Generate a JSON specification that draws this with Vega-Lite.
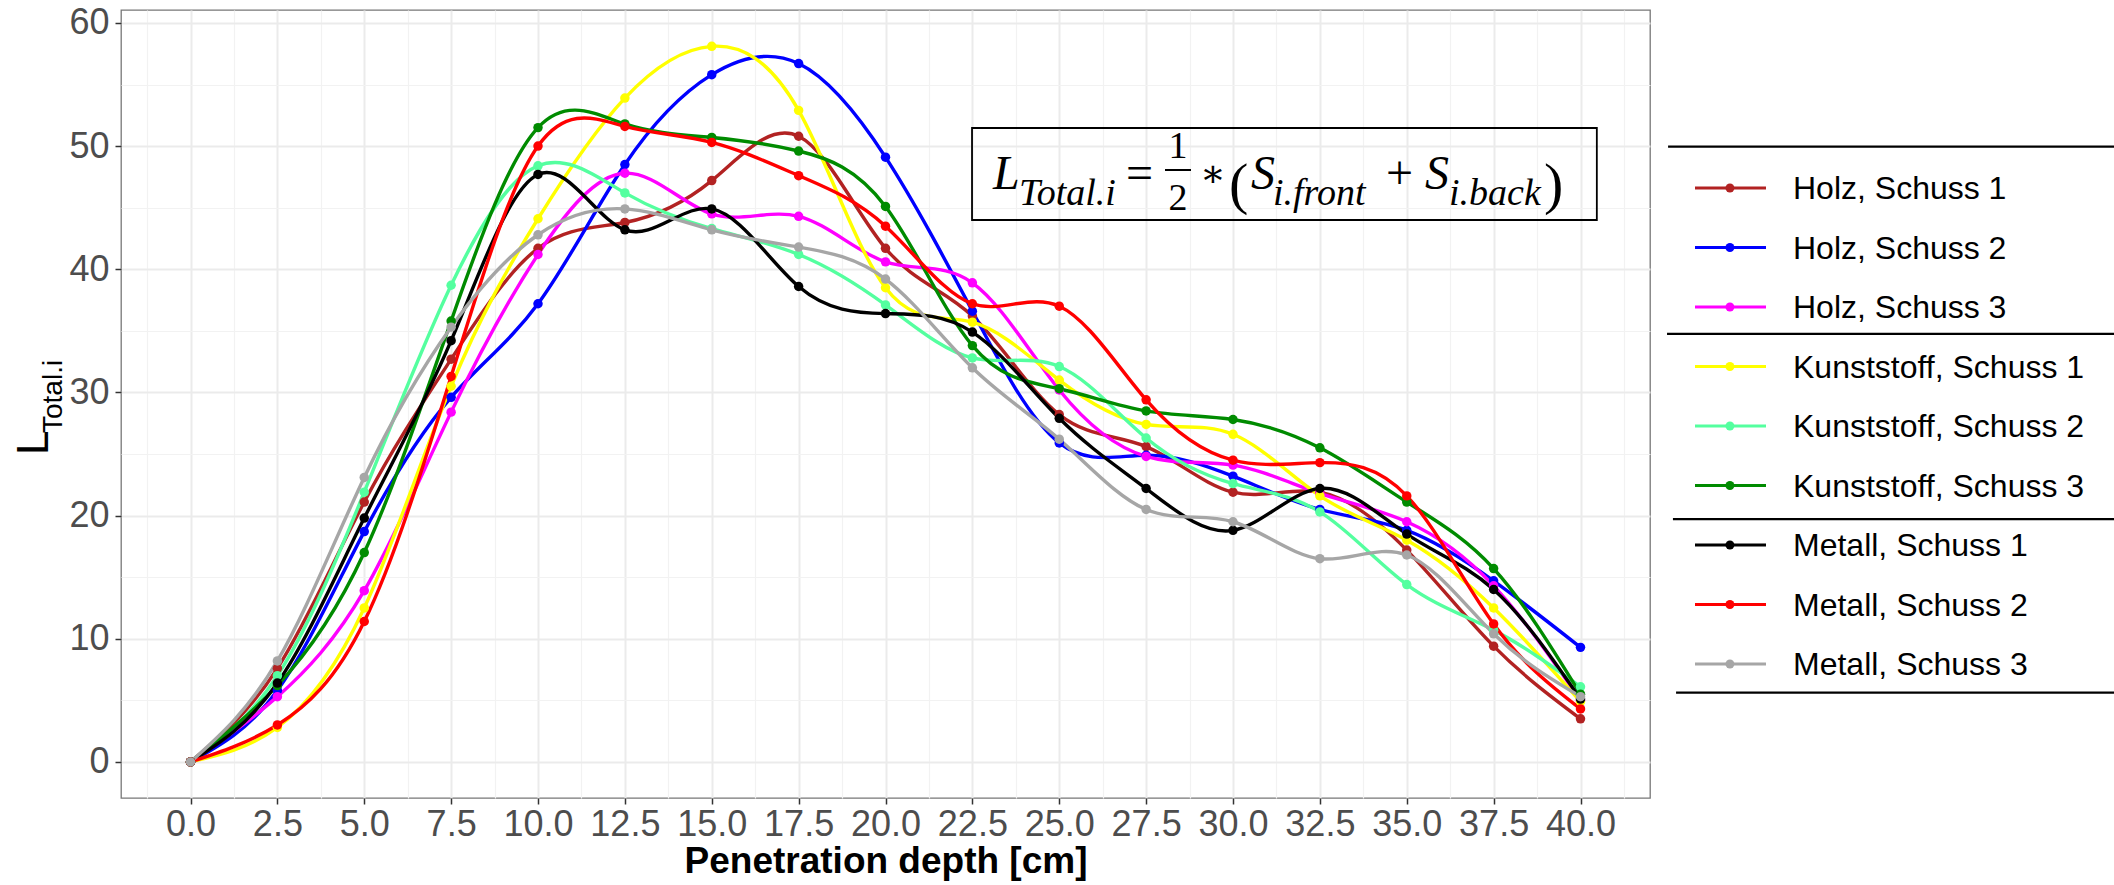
{
  "$schema": "https://vega.github.io/schema/vega-lite/v6.json",
  "width": 1529,
  "height": 788,
  "autosize": {"type": "none"},
  "padding": {"left": 121, "top": 10, "right": 464, "bottom": 87},
  "background": "white",
  "config": {
    "view": {"stroke": "#777777", "strokeWidth": 1.3},
    "text": {"font": "Liberation Sans"}
  },
  "datasets": {
    "curves": [
      {"series":"Holz, Schuss 1","depth":0,"L":0},{"series":"Holz, Schuss 1","depth":2.5,"L":7.6},{"series":"Holz, Schuss 1","depth":5,"L":21.1},{"series":"Holz, Schuss 1","depth":7.5,"L":32.7},{"series":"Holz, Schuss 1","depth":10,"L":41.7},{"series":"Holz, Schuss 1","depth":12.5,"L":43.8},{"series":"Holz, Schuss 1","depth":15,"L":47.2},{"series":"Holz, Schuss 1","depth":17.5,"L":50.8},{"series":"Holz, Schuss 1","depth":20,"L":41.7},{"series":"Holz, Schuss 1","depth":22.5,"L":36.2},{"series":"Holz, Schuss 1","depth":25,"L":28.2},{"series":"Holz, Schuss 1","depth":27.5,"L":25.6},{"series":"Holz, Schuss 1","depth":30,"L":21.9},{"series":"Holz, Schuss 1","depth":32.5,"L":21.9},{"series":"Holz, Schuss 1","depth":35,"L":17.2},{"series":"Holz, Schuss 1","depth":37.5,"L":9.4},{"series":"Holz, Schuss 1","depth":40,"L":3.5},
      {"series":"Holz, Schuss 2","depth":0,"L":0},{"series":"Holz, Schuss 2","depth":2.5,"L":5.8},{"series":"Holz, Schuss 2","depth":5,"L":18.7},{"series":"Holz, Schuss 2","depth":7.5,"L":29.6},{"series":"Holz, Schuss 2","depth":10,"L":37.2},{"series":"Holz, Schuss 2","depth":12.5,"L":48.5},{"series":"Holz, Schuss 2","depth":15,"L":55.8},{"series":"Holz, Schuss 2","depth":17.5,"L":56.7},{"series":"Holz, Schuss 2","depth":20,"L":49.1},{"series":"Holz, Schuss 2","depth":22.5,"L":36.6},{"series":"Holz, Schuss 2","depth":25,"L":25.9},{"series":"Holz, Schuss 2","depth":27.5,"L":24.9},{"series":"Holz, Schuss 2","depth":30,"L":23.2},{"series":"Holz, Schuss 2","depth":32.5,"L":20.5},{"series":"Holz, Schuss 2","depth":35,"L":18.8},{"series":"Holz, Schuss 2","depth":37.5,"L":14.7},{"series":"Holz, Schuss 2","depth":40,"L":9.3},
      {"series":"Holz, Schuss 3","depth":0,"L":0},{"series":"Holz, Schuss 3","depth":2.5,"L":5.3},{"series":"Holz, Schuss 3","depth":5,"L":13.9},{"series":"Holz, Schuss 3","depth":7.5,"L":28.4},{"series":"Holz, Schuss 3","depth":10,"L":41.2},{"series":"Holz, Schuss 3","depth":12.5,"L":47.8},{"series":"Holz, Schuss 3","depth":15,"L":44.5},{"series":"Holz, Schuss 3","depth":17.5,"L":44.3},{"series":"Holz, Schuss 3","depth":20,"L":40.6},{"series":"Holz, Schuss 3","depth":22.5,"L":38.9},{"series":"Holz, Schuss 3","depth":25,"L":30.2},{"series":"Holz, Schuss 3","depth":27.5,"L":24.8},{"series":"Holz, Schuss 3","depth":30,"L":24.1},{"series":"Holz, Schuss 3","depth":32.5,"L":21.8},{"series":"Holz, Schuss 3","depth":35,"L":19.5},{"series":"Holz, Schuss 3","depth":37.5,"L":14.3},{"series":"Holz, Schuss 3","depth":40,"L":5.0},
      {"series":"Kunststoff, Schuss 1","depth":0,"L":0},{"series":"Kunststoff, Schuss 1","depth":2.5,"L":2.8},{"series":"Kunststoff, Schuss 1","depth":5,"L":12.5},{"series":"Kunststoff, Schuss 1","depth":7.5,"L":30.5},{"series":"Kunststoff, Schuss 1","depth":10,"L":44.1},{"series":"Kunststoff, Schuss 1","depth":12.5,"L":53.9},{"series":"Kunststoff, Schuss 1","depth":15,"L":58.1},{"series":"Kunststoff, Schuss 1","depth":17.5,"L":52.9},{"series":"Kunststoff, Schuss 1","depth":20,"L":38.5},{"series":"Kunststoff, Schuss 1","depth":22.5,"L":35.7},{"series":"Kunststoff, Schuss 1","depth":25,"L":31.0},{"series":"Kunststoff, Schuss 1","depth":27.5,"L":27.4},{"series":"Kunststoff, Schuss 1","depth":30,"L":26.6},{"series":"Kunststoff, Schuss 1","depth":32.5,"L":21.6},{"series":"Kunststoff, Schuss 1","depth":35,"L":18.0},{"series":"Kunststoff, Schuss 1","depth":37.5,"L":12.5},{"series":"Kunststoff, Schuss 1","depth":40,"L":4.9},
      {"series":"Kunststoff, Schuss 2","depth":0,"L":0},{"series":"Kunststoff, Schuss 2","depth":2.5,"L":7.0},{"series":"Kunststoff, Schuss 2","depth":5,"L":21.9},{"series":"Kunststoff, Schuss 2","depth":7.5,"L":38.7},{"series":"Kunststoff, Schuss 2","depth":10,"L":48.4},{"series":"Kunststoff, Schuss 2","depth":12.5,"L":46.2},{"series":"Kunststoff, Schuss 2","depth":15,"L":43.3},{"series":"Kunststoff, Schuss 2","depth":17.5,"L":41.2},{"series":"Kunststoff, Schuss 2","depth":20,"L":37.1},{"series":"Kunststoff, Schuss 2","depth":22.5,"L":32.8},{"series":"Kunststoff, Schuss 2","depth":25,"L":32.1},{"series":"Kunststoff, Schuss 2","depth":27.5,"L":26.3},{"series":"Kunststoff, Schuss 2","depth":30,"L":22.6},{"series":"Kunststoff, Schuss 2","depth":32.5,"L":20.3},{"series":"Kunststoff, Schuss 2","depth":35,"L":14.4},{"series":"Kunststoff, Schuss 2","depth":37.5,"L":10.7},{"series":"Kunststoff, Schuss 2","depth":40,"L":6.1},
      {"series":"Kunststoff, Schuss 3","depth":0,"L":0},{"series":"Kunststoff, Schuss 3","depth":2.5,"L":6.2},{"series":"Kunststoff, Schuss 3","depth":5,"L":17.0},{"series":"Kunststoff, Schuss 3","depth":7.5,"L":35.8},{"series":"Kunststoff, Schuss 3","depth":10,"L":51.5},{"series":"Kunststoff, Schuss 3","depth":12.5,"L":51.8},{"series":"Kunststoff, Schuss 3","depth":15,"L":50.7},{"series":"Kunststoff, Schuss 3","depth":17.5,"L":49.6},{"series":"Kunststoff, Schuss 3","depth":20,"L":45.1},{"series":"Kunststoff, Schuss 3","depth":22.5,"L":33.8},{"series":"Kunststoff, Schuss 3","depth":25,"L":30.3},{"series":"Kunststoff, Schuss 3","depth":27.5,"L":28.5},{"series":"Kunststoff, Schuss 3","depth":30,"L":27.8},{"series":"Kunststoff, Schuss 3","depth":32.5,"L":25.5},{"series":"Kunststoff, Schuss 3","depth":35,"L":21.1},{"series":"Kunststoff, Schuss 3","depth":37.5,"L":15.7},{"series":"Kunststoff, Schuss 3","depth":40,"L":5.5},
      {"series":"Metall, Schuss 1","depth":0,"L":0},{"series":"Metall, Schuss 1","depth":2.5,"L":6.4},{"series":"Metall, Schuss 1","depth":5,"L":19.8},{"series":"Metall, Schuss 1","depth":7.5,"L":34.2},{"series":"Metall, Schuss 1","depth":10,"L":47.7},{"series":"Metall, Schuss 1","depth":12.5,"L":43.2},{"series":"Metall, Schuss 1","depth":15,"L":44.9},{"series":"Metall, Schuss 1","depth":17.5,"L":38.6},{"series":"Metall, Schuss 1","depth":20,"L":36.4},{"series":"Metall, Schuss 1","depth":22.5,"L":34.9},{"series":"Metall, Schuss 1","depth":25,"L":27.9},{"series":"Metall, Schuss 1","depth":27.5,"L":22.2},{"series":"Metall, Schuss 1","depth":30,"L":18.8},{"series":"Metall, Schuss 1","depth":32.5,"L":22.2},{"series":"Metall, Schuss 1","depth":35,"L":18.5},{"series":"Metall, Schuss 1","depth":37.5,"L":14.0},{"series":"Metall, Schuss 1","depth":40,"L":5.1},
      {"series":"Metall, Schuss 2","depth":0,"L":0},{"series":"Metall, Schuss 2","depth":2.5,"L":3.0},{"series":"Metall, Schuss 2","depth":5,"L":11.4},{"series":"Metall, Schuss 2","depth":7.5,"L":31.3},{"series":"Metall, Schuss 2","depth":10,"L":50.0},{"series":"Metall, Schuss 2","depth":12.5,"L":51.6},{"series":"Metall, Schuss 2","depth":15,"L":50.3},{"series":"Metall, Schuss 2","depth":17.5,"L":47.6},{"series":"Metall, Schuss 2","depth":20,"L":43.5},{"series":"Metall, Schuss 2","depth":22.5,"L":37.2},{"series":"Metall, Schuss 2","depth":25,"L":37.0},{"series":"Metall, Schuss 2","depth":27.5,"L":29.4},{"series":"Metall, Schuss 2","depth":30,"L":24.5},{"series":"Metall, Schuss 2","depth":32.5,"L":24.3},{"series":"Metall, Schuss 2","depth":35,"L":21.6},{"series":"Metall, Schuss 2","depth":37.5,"L":11.2},{"series":"Metall, Schuss 2","depth":40,"L":4.3},
      {"series":"Metall, Schuss 3","depth":0,"L":0},{"series":"Metall, Schuss 3","depth":2.5,"L":8.2},{"series":"Metall, Schuss 3","depth":5,"L":23.1},{"series":"Metall, Schuss 3","depth":7.5,"L":35.3},{"series":"Metall, Schuss 3","depth":10,"L":42.8},{"series":"Metall, Schuss 3","depth":12.5,"L":44.9},{"series":"Metall, Schuss 3","depth":15,"L":43.2},{"series":"Metall, Schuss 3","depth":17.5,"L":41.8},{"series":"Metall, Schuss 3","depth":20,"L":39.2},{"series":"Metall, Schuss 3","depth":22.5,"L":32.0},{"series":"Metall, Schuss 3","depth":25,"L":26.2},{"series":"Metall, Schuss 3","depth":27.5,"L":20.5},{"series":"Metall, Schuss 3","depth":30,"L":19.5},{"series":"Metall, Schuss 3","depth":32.5,"L":16.5},{"series":"Metall, Schuss 3","depth":35,"L":16.8},{"series":"Metall, Schuss 3","depth":37.5,"L":10.4},{"series":"Metall, Schuss 3","depth":40,"L":5.3}
    ],
    "legend": [
      {"series":"Holz, Schuss 1"},{"series":"Holz, Schuss 2"},{"series":"Holz, Schuss 3"},
      {"series":"Kunststoff, Schuss 1"},{"series":"Kunststoff, Schuss 2"},{"series":"Kunststoff, Schuss 3"},
      {"series":"Metall, Schuss 1"},{"series":"Metall, Schuss 2"},{"series":"Metall, Schuss 3"}
    ],
    "one": [{}]
  },
  "resolve": {"scale": {"y": "independent"}},
  "layer": [
    {
      "data": {"name": "one"},
      "layer": [
        {
          "data": {"name": "curves"},
          "mark": {"type": "line", "interpolate": "natural", "strokeWidth": 3.4},
          "encoding": {
            "x": {"field": "depth", "type": "quantitative",
              "scale": {"domain": [-2, 42], "nice": false, "zero": false},
              "axis": {
                "values": [-1.25,0,1.25,2.5,3.75,5,6.25,7.5,8.75,10,11.25,12.5,13.75,15,16.25,17.5,18.75,20,21.25,22.5,23.75,25,26.25,27.5,28.75,30,31.25,32.5,33.75,35,36.25,37.5,38.75,40,41.25],
                "labelExpr": "datum.value % 2.5 === 0 ? format(datum.value, '.1f') : ''",
                "title": "Penetration depth [cm]",
                "titleFont": "Liberation Sans", "titleFontSize": 37, "titleFontWeight": "bold", "titleColor": "#000000", "titlePadding": 1,
                "labelFont": "Liberation Sans", "labelFontSize": 36, "labelColor": "#4D4D4D", "labelPadding": 3,
                "labelOverlap": false, "labelFlush": false, "labelBound": false,
                "domain": false, "tickSize": 6, "tickWidth": 1.5,
                "tickColor": {"condition": {"test": "datum.value % 2.5 === 0", "value": "#333333"}, "value": "transparent"},
                "grid": true,
                "gridColor": {"condition": {"test": "datum.value % 2.5 === 0", "value": "#EBEBEB"}, "value": "#F2F2F2"},
                "gridWidth": {"condition": {"test": "datum.value % 2.5 === 0", "value": 2}, "value": 1.2}
              }},
            "y": {"field": "L", "type": "quantitative",
              "scale": {"domain": [-2.93, 61.05], "nice": false, "zero": false},
              "axis": {
                "values": [0,5,10,15,20,25,30,35,40,45,50,55,60],
                "labelExpr": "datum.value % 10 === 0 ? '' + datum.value : ''",
                "title": null,
                "labelFont": "Liberation Sans", "labelFontSize": 36, "labelColor": "#4D4D4D", "labelPadding": 6,
                "labelOverlap": false, "labelFlush": false, "labelBound": false,
                "domain": false, "tickSize": 6, "tickWidth": 1.5,
                "tickColor": {"condition": {"test": "datum.value % 10 === 0", "value": "#333333"}, "value": "transparent"},
                "grid": true,
                "gridColor": {"condition": {"test": "datum.value % 10 === 0", "value": "#EBEBEB"}, "value": "#F2F2F2"},
                "gridWidth": {"condition": {"test": "datum.value % 10 === 0", "value": 2}, "value": 1.2}
              }},
            "color": {"field": "series", "type": "nominal",
              "scale": {
                "domain": ["Holz, Schuss 1","Holz, Schuss 2","Holz, Schuss 3","Kunststoff, Schuss 1","Kunststoff, Schuss 2","Kunststoff, Schuss 3","Metall, Schuss 1","Metall, Schuss 2","Metall, Schuss 3"],
                "range": ["#B22222","#0000FF","#FF00FF","#FFFF00","#54FF9F","#008B00","#000000","#FF0000","#A6A6A6"]},
              "legend": null}
          }
        },
        {
          "data": {"name": "curves"},
          "mark": {"type": "point", "filled": true, "size": 90, "opacity": 1},
          "encoding": {
            "x": {"field": "depth", "type": "quantitative"},
            "y": {"field": "L", "type": "quantitative"},
            "color": {"field": "series", "type": "nominal", "legend": null}
          }
        },
        {
          "mark": {"type": "rect", "fill": "transparent", "stroke": "#000000", "strokeWidth": 1.8},
          "encoding": {"x": {"datum": 22.49}, "x2": {"datum": 40.47}, "y": {"datum": 51.47}, "y2": {"datum": 44.0}}
        },
        {"mark": {"type": "text", "text": "L", "align": "left", "baseline": "alphabetic", "font": "Liberation Serif", "fontStyle": "italic", "fontSize": 48, "color": "#000000"},
         "encoding": {"x": {"datum": 23.094}, "y": {"datum": 46.516}}},
        {"mark": {"type": "text", "text": "Total.i", "align": "left", "baseline": "alphabetic", "font": "Liberation Serif", "fontStyle": "italic", "fontSize": 38, "color": "#000000"},
         "encoding": {"x": {"datum": 23.842}, "y": {"datum": 45.217}}},
        {"mark": {"type": "text", "text": "=", "align": "left", "baseline": "alphabetic", "font": "Liberation Serif", "fontSize": 48, "color": "#000000"},
         "encoding": {"x": {"datum": 26.921}, "y": {"datum": 46.516}}},
        {"mark": {"type": "text", "text": "1", "align": "center", "baseline": "alphabetic", "font": "Liberation Serif", "fontSize": 38, "color": "#000000"},
         "encoding": {"x": {"datum": 28.417}, "y": {"datum": 49.033}}},
        {"mark": {"type": "rule", "color": "#000000", "strokeWidth": 2},
         "encoding": {"x": {"datum": 28.043}, "x2": {"datum": 28.791}, "y": {"datum": 48.059}}},
        {"mark": {"type": "text", "text": "2", "align": "center", "baseline": "alphabetic", "font": "Liberation Serif", "fontSize": 38, "color": "#000000"},
         "encoding": {"x": {"datum": 28.417}, "y": {"datum": 44.811}}},
        {"mark": {"type": "text", "text": "∗", "align": "center", "baseline": "alphabetic", "font": "DejaVu Serif", "fontSize": 38, "color": "#000000"},
         "encoding": {"x": {"datum": 29.424}, "y": {"datum": 46.76}}},
        {"mark": {"type": "text", "text": "(", "align": "left", "baseline": "alphabetic", "font": "Liberation Serif", "fontSize": 58, "color": "#000000"},
         "encoding": {"x": {"datum": 29.885}, "y": {"datum": 45.379}}},
        {"mark": {"type": "text", "text": "S", "align": "left", "baseline": "alphabetic", "font": "Liberation Serif", "fontStyle": "italic", "fontSize": 48, "color": "#000000"},
         "encoding": {"x": {"datum": 30.518}, "y": {"datum": 46.516}}},
        {"mark": {"type": "text", "text": "i.front", "align": "left", "baseline": "alphabetic", "font": "Liberation Serif", "fontStyle": "italic", "fontSize": 38, "color": "#000000"},
         "encoding": {"x": {"datum": 31.151}, "y": {"datum": 45.217}}},
        {"mark": {"type": "text", "text": "+", "align": "center", "baseline": "alphabetic", "font": "Liberation Serif", "fontSize": 48, "color": "#000000"},
         "encoding": {"x": {"datum": 34.791}, "y": {"datum": 46.516}}},
        {"mark": {"type": "text", "text": "S", "align": "left", "baseline": "alphabetic", "font": "Liberation Serif", "fontStyle": "italic", "fontSize": 48, "color": "#000000"},
         "encoding": {"x": {"datum": 35.525}, "y": {"datum": 46.516}}},
        {"mark": {"type": "text", "text": "i.back", "align": "left", "baseline": "alphabetic", "font": "Liberation Serif", "fontStyle": "italic", "fontSize": 38, "color": "#000000"},
         "encoding": {"x": {"datum": 36.216}, "y": {"datum": 45.217}}},
        {"mark": {"type": "text", "text": ")", "align": "left", "baseline": "alphabetic", "font": "Liberation Serif", "fontSize": 58, "color": "#000000"},
         "encoding": {"x": {"datum": 38.95}, "y": {"datum": 45.379}}},
        {"mark": {"type": "text", "text": "L", "align": "left", "baseline": "alphabetic", "angle": 270, "font": "Liberation Sans", "fontSize": 44, "color": "#000000"},
         "encoding": {"x": {"datum": -4.101}, "y": {"datum": 24.918}}},
        {"mark": {"type": "text", "text": "Total.i", "align": "left", "baseline": "alphabetic", "angle": 270, "font": "Liberation Sans", "fontSize": 28, "color": "#000000"},
         "encoding": {"x": {"datum": -3.698}, "y": {"datum": 26.705}}},
        {"mark": {"type": "rule", "color": "#000000", "strokeWidth": 2.2},
         "encoding": {"x": {"datum": 42.52}, "x2": {"datum": 55.4}, "y": {"datum": 49.95}}},
        {"mark": {"type": "rule", "color": "#000000", "strokeWidth": 2.2},
         "encoding": {"x": {"datum": 42.49}, "x2": {"datum": 55.4}, "y": {"datum": 34.76}}},
        {"mark": {"type": "rule", "color": "#000000", "strokeWidth": 2.2},
         "encoding": {"x": {"datum": 42.66}, "x2": {"datum": 55.4}, "y": {"datum": 19.72}}},
        {"mark": {"type": "rule", "color": "#000000", "strokeWidth": 2.2},
         "encoding": {"x": {"datum": 42.75}, "x2": {"datum": 55.4}, "y": {"datum": 5.63}}}
      ]
    },
    {
      "data": {"name": "legend"},
      "encoding": {
        "y": {"field": "series", "type": "nominal",
          "scale": {"type": "point",
            "domain": ["Holz, Schuss 1","Holz, Schuss 2","Holz, Schuss 3","Kunststoff, Schuss 1","Kunststoff, Schuss 2","Kunststoff, Schuss 3","Metall, Schuss 1","Metall, Schuss 2","Metall, Schuss 3"],
            "range": [178, 654], "padding": 0},
          "axis": null},
        "color": {"field": "series", "type": "nominal", "legend": null}
      },
      "layer": [
        {"mark": {"type": "rule", "strokeWidth": 3},
         "encoding": {"x": {"datum": 43.295}, "x2": {"datum": 45.338}}},
        {"mark": {"type": "point", "filled": true, "size": 80, "opacity": 1},
         "encoding": {"x": {"datum": 44.3}}},
        {"mark": {"type": "text", "align": "left", "baseline": "alphabetic", "dy": 11, "font": "Liberation Sans", "fontSize": 32, "color": "#000000"},
         "encoding": {"x": {"datum": 46.115}, "text": {"field": "series"}, "color": {"value": "#000000"}}}
      ]
    }
  ]
}
